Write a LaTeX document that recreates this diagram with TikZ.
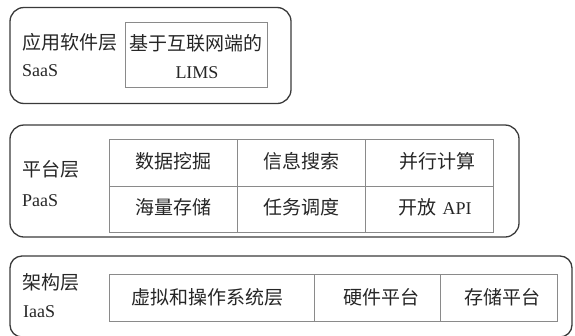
\documentclass[tikz,border=0pt]{standalone}
\usepackage{fontspec}
\setmainfont{Liberation Serif}
\newfontfamily\cjk{Noto Sans CJK SC}
\definecolor{outerline}{HTML}{3A3A3A}
\definecolor{innerline}{HTML}{8A8A8A}
\definecolor{txt}{HTML}{262626}
\begin{document}
\begin{tikzpicture}[x=1pt,y=-1pt,
  layer/.style={draw=outerline, line width=1.3pt, rounded corners=14pt, inner sep=0pt},
  cellbox/.style={draw=innerline, line width=0.9pt, inner sep=0pt},
  zh/.style={inner sep=0pt, text=txt, font=\fontsize{19}{21}\selectfont\cjk},
  en/.style={inner sep=0pt, text=txt, font=\fontsize{18}{20}\selectfont}]
\useasboundingbox (0,0) rectangle (575,335);

% ---- SaaS layer
\node[layer, minimum width=281pt, minimum height=96pt] (saas) at (150.5,55.5) {};
\node[cellbox, minimum width=142pt, minimum height=65pt] (lims) at (196,54.5) {};
\node[zh, anchor=west] (saasname) at (22,42) {应用软件层};
\node[en, anchor=west] (saasabbr) at (22,71) {SaaS};
\node[zh] (limsa) at (196,43) {基于互联网端的};
\node[en] (limsb) at (197,73) {LIMS};

% ---- PaaS layer
\node[layer, minimum width=509pt, minimum height=112pt] (paas) at (264.5,181) {};
\node[cellbox, minimum width=128pt, minimum height=47pt] (c11) at (173,162.5) {};
\node[cellbox, minimum width=128pt, minimum height=47pt] (c12) at (301,162.5) {};
\node[cellbox, minimum width=128pt, minimum height=47pt] (c13) at (429,162.5) {};
\node[cellbox, minimum width=128pt, minimum height=46pt] (c21) at (173,209) {};
\node[cellbox, minimum width=128pt, minimum height=46pt] (c22) at (301,209) {};
\node[cellbox, minimum width=128pt, minimum height=46pt] (c23) at (429,209) {};
\node[zh] (t11) at (173,161) {数据挖掘};
\node[zh] (t12) at (301,161) {信息搜索};
\node[zh] (t13) at (437,161) {并行计算};
\node[zh] (t21) at (173,207) {海量存储};
\node[zh] (t22) at (301,207) {任务调度};
\node[inner sep=0pt, text=txt] (t23) at (435,207) {{\fontsize{19}{21}\selectfont\cjk 开放}\hspace{6pt}{\fontsize{18}{20}\selectfont API}};
\node[zh, anchor=west] (paasname) at (22,169) {平台层};
\node[en, anchor=west] (paasabbr) at (22,201) {PaaS};

% ---- IaaS layer
\node[layer, minimum width=562pt, minimum height=81pt, rounded corners=12pt] (iaas) at (291,296.5) {};
\node[cellbox, minimum width=205pt, minimum height=47pt] (v1) at (211.5,297.5) {};
\node[cellbox, minimum width=126pt, minimum height=47pt] (v2) at (377,297.5) {};
\node[cellbox, minimum width=117pt, minimum height=47pt] (v3) at (498.5,297.5) {};
\node[zh] (s1) at (207,297) {虚拟和操作系统层};
\node[zh] (s2) at (381,297) {硬件平台};
\node[zh] (s3) at (502,297) {存储平台};
\node[zh, anchor=west] (iaasname) at (22,282) {架构层};
\node[en, anchor=west] (iaasabbr) at (23,312) {IaaS};
\end{tikzpicture}
\end{document}
